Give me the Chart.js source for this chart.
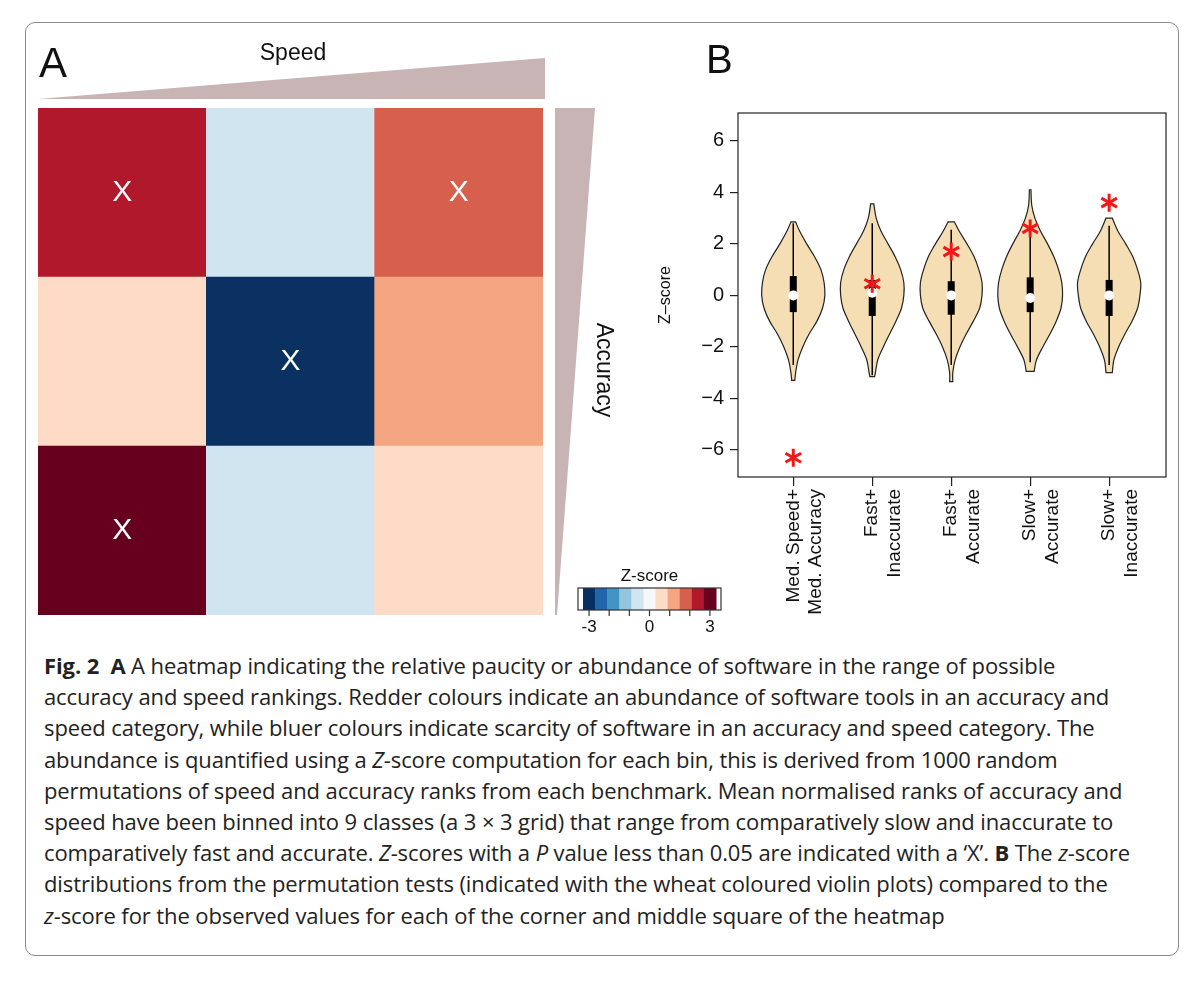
<!DOCTYPE html>
<html><head><meta charset="utf-8">
<script src="https://cdn.jsdelivr.net/npm/chart.js@4/dist/chart.umd.min.js"></script>
<style>
body{margin:0;background:#fff;font-family:"Open Sans",sans-serif;}
#frame{position:absolute;left:25px;top:22px;width:1154px;height:934px;border:1.5px solid #8a8a8a;border-radius:10px;box-sizing:border-box;}
canvas{position:absolute;}
#cap{position:absolute;left:44px;top:650px;font-size:22px;line-height:31.2px;color:#222;white-space:nowrap;letter-spacing:-0.1px;}
</style></head><body>
<div id="frame"></div>
<canvas id="a" style="left:25px;top:22px;width:710px;height:610px" width="710" height="610"></canvas>
<canvas id="b" style="left:640px;top:22px;width:540px;height:610px" width="540" height="610"></canvas>
<div id="cap"><b>Fig. 2 &nbsp;A</b> A heatmap indicating the relative paucity or abundance of software in the range of possible<br>accuracy and speed rankings. Redder colours indicate an abundance of software tools in an accuracy and<br>speed category, while bluer colours indicate scarcity of software in an accuracy and speed category. The<br>abundance is quantified using a <i>Z</i>-score computation for each bin, this is derived from 1000 random<br>permutations of speed and accuracy ranks from each benchmark. Mean normalised ranks of accuracy and<br>speed have been binned into 9 classes (a 3 × 3 grid) that range from comparatively slow and inaccurate to<br>comparatively fast and accurate. <i>Z</i>-scores with a <i>P</i> value less than 0.05 are indicated with a ‘X’. <b>B</b> The <i>z</i>-score<br>distributions from the permutation tests (indicated with the wheat coloured violin plots) compared to the<br><i>z</i>-score for the observed values for each of the corner and middle square of the heatmap</div>
<script>
// ---- Heatmap data (rows top -> bottom, columns left -> right)
const heatCols = ["c1","c2","c3"];
const heatRowTop = ["#B2182B","#D1E5F0","#D6604D"];
const heatRowMid = ["#FDDBC7","#0A3162","#F4A582"];
const heatRowBot = ["#67001F","#D1E5F0","#FDDBC7"];
const sigTop = [true,false,true];
const sigMid = [false,true,false];
const sigBot = [true,false,false];
const legendColors = ["#053061","#2166AC","#4393C3","#92C5DE","#D1E5F0","#F7F7F7","#FDDBC7","#F4A582","#D6604D","#B2182B","#67001F"];
const legendTicks = ["-3","0","3"];

// ---- Violin data
const groups = [["Med. Speed+","Med. Accuracy"],["Fast+","Inaccurate"],["Fast+","Accurate"],["Slow+","Accurate"],["Slow+","Inaccurate"]];
const observed = [-6.3,0.45,1.7,2.6,3.6];
const vY1=[2.85,2.5,2,1.5,1,0.5,0,-0.5,-1,-1.5,-2,-2.5,-3,-3.3];
const vW1=[0.03,0.08,0.17,0.27,0.35,0.39,0.40,0.37,0.30,0.20,0.12,0.06,0.03,0.02];
const vY2=[3.55,3,2.5,2,1.5,1,0.5,0,-0.5,-1,-1.5,-2,-2.5,-3,-3.15];
const vW2=[0.02,0.05,0.11,0.20,0.29,0.36,0.40,0.40,0.37,0.30,0.22,0.14,0.07,0.04,0.03];
const vY3=[2.85,2.5,2,1.5,1,0.5,0,-0.5,-1,-1.5,-2,-2.5,-3,-3.35];
const vW3=[0.04,0.10,0.20,0.29,0.35,0.39,0.39,0.36,0.28,0.19,0.11,0.05,0.02,0.02];
const vY4=[4.1,3.5,3,2.5,2,1.5,1,0.5,0,-0.5,-1,-1.5,-2,-2.5,-2.95];
const vW4=[0.01,0.02,0.06,0.13,0.22,0.30,0.36,0.40,0.41,0.39,0.33,0.25,0.16,0.08,0.05];
const vY5=[3.0,2.5,2,1.5,1,0.5,0,-0.5,-1,-1.5,-2,-2.5,-3];
const vW5=[0.04,0.11,0.21,0.30,0.36,0.40,0.39,0.36,0.29,0.20,0.12,0.06,0.04];
const whiskLo=[-2.7,-3.1,-2.7,-2.6,-2.7], whiskHi=[2.8,2.8,2.55,2.6,2.7];
const boxLo=[-0.65,-0.8,-0.75,-0.65,-0.8], boxHi=[0.75,0.6,0.55,0.7,0.6];
const medians=[0,0.1,0,-0.1,0];
const yTicks=[-6,-4,-2,0,2,4,6];

const FF='Liberation Sans';
// ---------- Chart A
const rows=[heatRowBot,heatRowMid,heatRowTop], sigs=[sigBot,sigMid,sigTop];
const heatPlugin={id:'heatDeco',afterDatasetsDraw(c){
  const ctx=c.ctx, a=c.chartArea;
  ctx.save();
  ctx.fillStyle='#fff';ctx.font='30px '+FF;ctx.textAlign='center';ctx.textBaseline='middle';
  c.data.datasets.forEach((ds,di)=>{const m=c.getDatasetMeta(di);m.data.forEach((el,i)=>{if(sigs[di][i])ctx.fillText('X',el.x,(el.y+el.base)/2);});});
  ctx.fillStyle='#C8B4B4';
  ctx.beginPath();ctx.moveTo(a.left,a.top-9);ctx.lineTo(a.right+2,a.top-50);ctx.lineTo(a.right+2,a.top-9);ctx.closePath();ctx.fill();
  ctx.beginPath();ctx.moveTo(a.right+12,a.top);ctx.lineTo(a.right+52,a.top);ctx.lineTo(a.right+14,a.bottom);ctx.lineTo(a.right+12,a.bottom);ctx.closePath();ctx.fill();
  ctx.fillStyle='#111';ctx.textAlign='left';ctx.font='42px '+FF;ctx.fillText('A',14,43);
  ctx.font='23px '+FF;ctx.textAlign='center';ctx.fillText('Speed',268,32);
  ctx.save();ctx.translate(578,348);ctx.rotate(Math.PI/2);ctx.fillText('Accuracy',0,0);ctx.restore();
  const lx=553, ly=566, lw=143, lh=22, n=legendColors.length, cw=(lw-10)/n;
  ctx.fillStyle='#fff';ctx.fillRect(lx,ly,lw,lh);
  legendColors.forEach((col,i)=>{ctx.fillStyle=col;ctx.fillRect(lx+5+i*cw,ly,cw+0.5,lh);});
  ctx.strokeStyle='#333';ctx.lineWidth=1.2;ctx.strokeRect(lx,ly,lw,lh);
  ctx.beginPath();for(let k=0;k<=6;k++){const tx=lx+5+cw*0.5+k*(cw*10/6);ctx.moveTo(tx,ly+lh);ctx.lineTo(tx,ly+lh+6);}ctx.stroke();
  ctx.fillStyle='#111';ctx.font='17px '+FF;
  ctx.fillText('Z-score',lx+lw/2,ly-12);
  legendTicks.forEach((t,k)=>{const tx=lx+5+cw*0.5+k*(cw*10/2);ctx.fillText(t,tx,ly+lh+17);});
  ctx.restore();
}};
new Chart(document.getElementById('a'),{type:'bar',
 data:{labels:heatCols,datasets:rows.map(r=>({data:[1,1,1],backgroundColor:r,borderWidth:0,barPercentage:1,categoryPercentage:1}))},
 options:{responsive:false,animation:false,events:[],layout:{padding:{left:13,top:86,right:192,bottom:17}},
  plugins:{legend:{display:false},tooltip:{enabled:false}},
  scales:{x:{stacked:true,display:false},y:{stacked:true,display:false,min:0,max:3}}},
 plugins:[heatPlugin]});

// ---------- Chart B
const vYs=[vY1,vY2,vY3,vY4,vY5], vWs=[vW1,vW2,vW3,vW4,vW5];
function curveTo(ctx,pts){
  for(let i=0;i<pts.length-1;i++){const p0=pts[Math.max(i-1,0)],p1=pts[i],p2=pts[i+1],p3=pts[Math.min(i+2,pts.length-1)];
    ctx.bezierCurveTo(p1[0]+(p2[0]-p0[0])/6,p1[1]+(p2[1]-p0[1])/6,p2[0]-(p3[0]-p1[0])/6,p2[1]-(p3[1]-p1[1])/6,p2[0],p2[1]);}
}
const violinPlugin={id:'violin',afterDatasetsDraw(c){
  const ctx=c.ctx,x=c.scales.x,y=c.scales.y,a=c.chartArea;
  ctx.save();
  vYs.forEach((ys,i)=>{const g=i+1,ws=vWs[i];
    const right=ys.map((v,k)=>[x.getPixelForValue(g+ws[k]),y.getPixelForValue(v)]);
    const left=ys.map((v,k)=>[x.getPixelForValue(g-ws[k]),y.getPixelForValue(v)]).reverse();
    ctx.beginPath();ctx.moveTo(right[0][0],right[0][1]);curveTo(ctx,right);
    ctx.lineTo(left[0][0],left[0][1]);curveTo(ctx,left);
    ctx.closePath();ctx.fillStyle='#F5DEB3';ctx.fill();ctx.strokeStyle='#222';ctx.lineWidth=1.2;ctx.stroke();
    const px=x.getPixelForValue(g);
    ctx.beginPath();ctx.moveTo(px,y.getPixelForValue(whiskLo[i]));ctx.lineTo(px,y.getPixelForValue(whiskHi[i]));ctx.lineWidth=1.5;ctx.strokeStyle='#000';ctx.stroke();
    ctx.fillStyle='#000';const bt=y.getPixelForValue(boxHi[i]),bb=y.getPixelForValue(boxLo[i]);ctx.fillRect(px-3.5,bt,7,bb-bt);
    ctx.beginPath();ctx.arc(px,y.getPixelForValue(medians[i]),5,0,Math.PI*2);ctx.fillStyle='#fff';ctx.fill();
  });
  const m=c.getDatasetMeta(0);ctx.strokeStyle='#F01818';ctx.lineWidth=3;
  m.data.forEach(el=>{const r=9;ctx.beginPath();for(let k=0;k<3;k++){const ang=Math.PI/2+k*Math.PI/3;ctx.moveTo(el.x+r*Math.cos(ang),el.y+r*Math.sin(ang));ctx.lineTo(el.x-r*Math.cos(ang),el.y-r*Math.sin(ang));}ctx.stroke();});
  ctx.strokeStyle='#222';ctx.lineWidth=1.2;ctx.strokeRect(a.left,a.top,a.right-a.left,a.bottom-a.top);
  ctx.fillStyle='#111';ctx.font='40px '+FF;ctx.textAlign='left';ctx.textBaseline='middle';ctx.fillText('B',66,40);
  ctx.restore();
}};
new Chart(document.getElementById('b'),{type:'scatter',
 data:{datasets:[{data:observed.map((v,i)=>({x:i+1,y:v})),pointRadius:0,pointHoverRadius:0}]},
 options:{responsive:false,animation:false,events:[],layout:{padding:{left:16,top:91,right:14,bottom:0}},
  plugins:{legend:{display:false},tooltip:{enabled:false}},
  scales:{
   x:{type:'linear',min:0.3,max:5.72,afterBuildTicks:s=>{s.ticks=groups.map((g,i)=>({value:i+1}));},
      afterFit:s=>{s.height=155;},border:{display:false},
      grid:{drawOnChartArea:false,tickLength:9,color:'#222',lineWidth:1.2},
      ticks:{autoSkip:false,maxRotation:90,minRotation:90,color:'#111',font:{family:FF,size:19},padding:3,callback:(v)=>groups[Math.round(v)-1]}},
   y:{min:-7.05,max:7.08,afterBuildTicks:s=>{s.ticks=yTicks.map(v=>({value:v}));},
      afterFit:s=>{s.width=82;},border:{display:false},
      grid:{drawOnChartArea:false,tickLength:8,color:'#222',lineWidth:1.2},
      title:{display:true,text:'Z–score',color:'#111',font:{family:FF,size:16},padding:0},
      ticks:{color:'#111',font:{family:FF,size:20},padding:6,callback:v=>String(v).replace('-','−')}}
  }},
 plugins:[violinPlugin]});
</script>
</body></html>
